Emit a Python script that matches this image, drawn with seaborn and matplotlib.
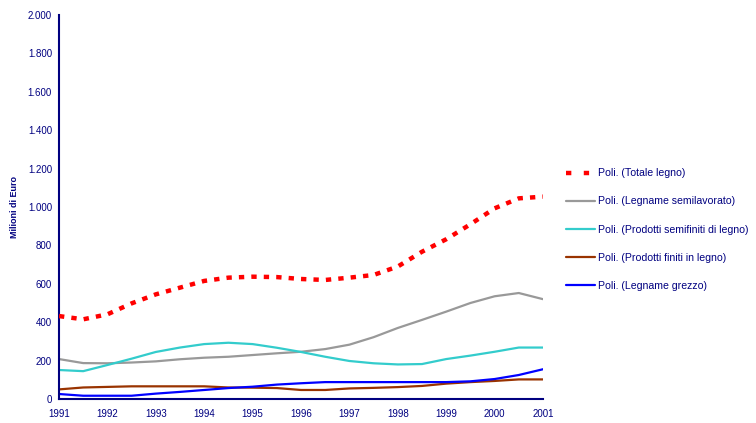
import matplotlib
matplotlib.use("Agg")
import matplotlib.pyplot as plt
import seaborn as sns
import pandas as pd

# Half-year sampling points of the polynomial trend lines
anni = [1991 + 0.5 * i for i in range(21)]

totale_legno = [432, 415, 441, 498, 545, 580, 615, 632, 637, 635, 625,
                620, 632, 646, 690, 767, 832, 910, 993, 1045, 1054]
legname_semilavorato = [208, 187, 186, 190, 196, 207, 215, 220, 229, 238, 246,
                        260, 283, 322, 370, 412, 455, 500, 535, 552, 520]
prodotti_semifiniti = [151, 145, 177, 210, 245, 268, 286, 293, 286, 267, 245,
                       220, 198, 186, 180, 182, 208, 226, 246, 268, 268]
prodotti_finiti = [50, 60, 63, 66, 66, 66, 66, 60, 59, 57, 47,
                   47, 55, 58, 62, 68, 80, 88, 94, 102, 102]
legname_grezzo = [26, 17, 17, 17, 28, 37, 47, 57, 64, 75, 82,
                  88, 88, 88, 88, 88, 88, 92, 104, 125, 155]

serie = ["Poli. (Totale legno)", "Poli. (Legname semilavorato)",
         "Poli. (Prodotti semifiniti di legno)", "Poli. (Prodotti finiti in legno)",
         "Poli. (Legname grezzo)"]
valori = [totale_legno, legname_semilavorato, prodotti_semifiniti,
          prodotti_finiti, legname_grezzo]
colori = ["#FF0000", "#999999", "#33CCCC", "#993300", "#0000FF"]

anni_tick = list(range(1991, 2002))
y_tick = list(range(0, 2001, 200))
y_tick_lab = ["0", "200", "400", "600", "800", "1.000", "1.200", "1.400",
              "1.600", "1.800", "2.000"]

df = pd.DataFrame({
    "anno": anni * len(serie),
    "valore": [v for vals in valori for v in vals],
    "serie": [s for s in serie for _ in anni],
})

sns.set_style("white")
plt.rcParams["font.family"] = ["Liberation Sans", "DejaVu Sans"]

navy = "#000080"
fig = plt.figure(figsize=(7.56, 4.23), dpi=100)
ax = fig.add_axes([59 / 756, 1 - 399 / 423, (543 - 59) / 756, (399 - 15) / 423])

sns.lineplot(data=df, x="anno", y="valore", hue="serie", hue_order=serie,
             palette=colori, ax=ax, linewidth=1.6, legend=True)

lines = ax.get_lines()
lines[0].set_linewidth(3.2)
lines[0].set_dashes([1.2, 1.6])
lines[0].set_dash_capstyle("butt")
lines[0].set_zorder(5)

ax.set_xlim(1991, 2001)
ax.set_ylim(0, 2000)
ax.set_xticks(anni_tick)
ax.set_xticklabels([str(a) for a in anni_tick])
ax.set_yticks(y_tick)
ax.set_yticklabels(y_tick_lab)
ax.set_xlabel("")
ax.set_ylabel("Milioni di Euro", fontsize=6.5, fontweight="bold", color=navy,
              labelpad=6)

for side in ["top", "right"]:
    ax.spines[side].set_visible(False)
for side in ["left", "bottom"]:
    ax.spines[side].set_color(navy)
    ax.spines[side].set_linewidth(1.5)

ax.tick_params(axis="both", colors=navy, labelcolor=navy, labelsize=7,
               direction="out", width=1.2)
ax.tick_params(axis="x", length=4, pad=3.5)
ax.tick_params(axis="y", length=3, pad=2)

handles, labels = ax.get_legend_handles_labels()
leg = ax.legend(handles, labels, loc="upper left",
                bbox_to_anchor=(562 / 756, 1 - 164 / 423),
                bbox_transform=fig.transFigure, frameon=False, fontsize=7.6,
                labelspacing=1.72, handlelength=2.7, handletextpad=0.3,
                borderaxespad=0)
for t in leg.get_texts():
    t.set_color(navy)
leg.get_lines()[0].set_linewidth(3.2)
leg.get_lines()[0].set_dashes([1.2, 2.8])

fig.savefig("out.png", dpi=100)
